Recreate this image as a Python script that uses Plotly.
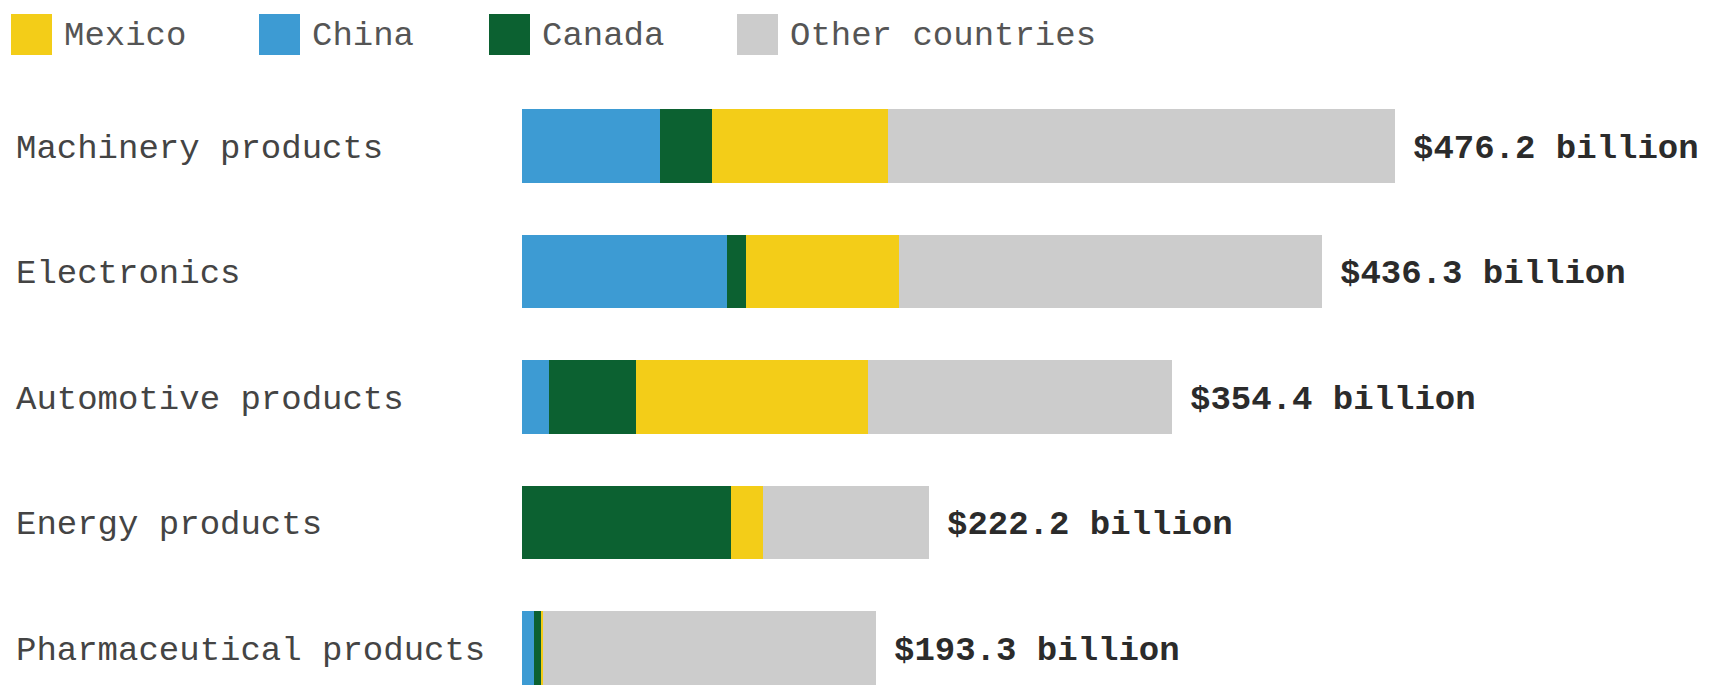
import plotly.graph_objects as go

# US imports by product category and origin, billions of dollars
categories = [
    "Machinery products",
    "Electronics",
    "Automotive products",
    "Energy products",
    "Pharmaceutical products",
]
totals = [476.2, 436.3, 354.4, 222.2, 193.3]
china = [75.3, 111.8, 14.7, 0.0, 6.4]
canada = [28.4, 10.4, 47.7, 114.0, 4.5]
mexico = [96.0, 83.6, 126.3, 17.4, 0.6]
other = [276.5, 230.5, 165.7, 90.8, 181.8]

series = [
    ("China", china, "#3d9bd3"),
    ("Canada", canada, "#0c6131"),
    ("Mexico", mexico, "#f3cd18"),
    ("Other countries", other, "#cccccc"),
]
legend_order = ["Mexico", "China", "Canada", "Other countries"]
colors = {name: col for name, _, col in series}

W, H = 1723, 685
TOP = 83
PLOT_H = H - TOP
FONT = "Liberation Mono"


def py(pix):
    """Figure pixel row -> paper y (relative to the plot area)."""
    return 1 + (TOP - pix) / PLOT_H


fig = go.Figure()
for name, vals, col in series:
    fig.add_trace(go.Bar(
        y=categories, x=vals, name=name, orientation="h",
        marker=dict(color=col, line=dict(width=0)),
        width=0.586, showlegend=False,
    ))

annotations = []
for cat, tot in zip(categories, totals):
    annotations.append(dict(
        x=14 / W, xref="paper", y=cat, yref="y", xanchor="left", yanchor="middle",
        yshift=-3, text=cat, showarrow=False,
        font=dict(family=FONT, size=34, color="#444444"),
    ))
    annotations.append(dict(
        x=tot, xref="x", y=cat, yref="y", xanchor="left", yanchor="middle",
        xshift=16, yshift=-3, text=f"<b>${tot:.1f} billion</b>", showarrow=False,
        font=dict(family=FONT, size=34, color="#2b2b2b"),
    ))

# custom legend: square swatches with labels
shapes = []
legend_x = [11, 259, 489, 737]
for name, x0 in zip(legend_order, legend_x):
    shapes.append(dict(
        type="rect", xref="paper", yref="paper",
        x0=x0 / W, x1=(x0 + 41) / W, y0=py(55), y1=py(14),
        fillcolor=colors[name], line=dict(width=0), layer="above",
    ))
    annotations.append(dict(
        x=(x0 + 51) / W, xref="paper", y=py(36), yref="paper",
        xanchor="left", yanchor="middle", text=name, showarrow=False,
        font=dict(family=FONT, size=34, color="#555555"),
    ))

px_per_unit = 873 / 476.2
x_zero = 522
fig.update_layout(
    width=W, height=H,
    margin=dict(l=0, r=0, t=TOP, b=0, pad=0),
    barmode="stack",
    paper_bgcolor="white", plot_bgcolor="white",
    xaxis=dict(range=[-x_zero / px_per_unit, (W - x_zero) / px_per_unit],
               visible=False, fixedrange=True),
    yaxis=dict(categoryorder="array", categoryarray=categories,
               range=[4.295, -0.5], visible=False, fixedrange=True),
    annotations=annotations, shapes=shapes,
    showlegend=False,
)

fig.write_html("out.html")
